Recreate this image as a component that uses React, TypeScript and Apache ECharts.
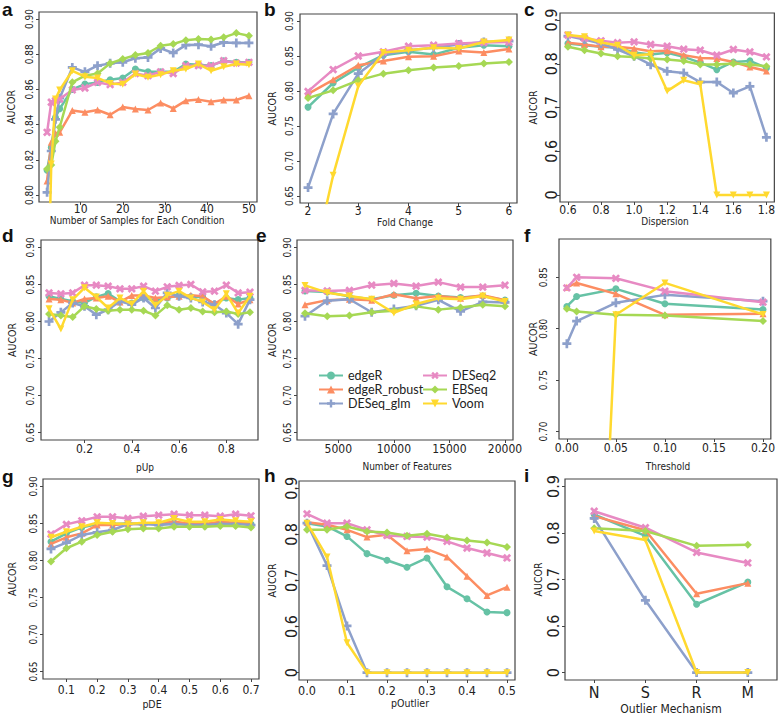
import React, { useEffect, useRef } from "react";
import * as echarts from "echarts";

// ---------- methods ----------
const METHODS = ["edgeR", "edgeR_robust", "DESeq_glm", "DESeq2", "EBSeq", "Voom"];
const COLORS = ["#66C2A5", "#FC8D62", "#8DA0CB", "#E78AC3", "#A6D854", "#FFD92F"];

// ---------- panel a ----------
const aX = [2, 3, 4, 5, 8, 11, 14, 17, 20, 23, 26, 29, 32, 35, 38, 41, 44, 47, 50];
const aEdgeR = [0.814, 0.827, 0.844, 0.849, 0.86, 0.863, 0.864, 0.8655, 0.8665, 0.8716, 0.87, 0.87, 0.87, 0.8744, 0.874, 0.8735, 0.8763, 0.8754, 0.8754];
const aRobust = [0.808, 0.83, 0.835, 0.8356, 0.848, 0.847, 0.8483, 0.8456, 0.85, 0.8489, 0.8483, 0.8523, 0.8492, 0.8536, 0.8542, 0.853, 0.854, 0.854, 0.8564];
const aGlm = [0.8015, 0.825, 0.843, 0.855, 0.8725, 0.87, 0.8735, 0.8748, 0.8754, 0.8777, 0.8782, 0.8833, 0.8807, 0.8852, 0.8854, 0.8845, 0.8867, 0.8864, 0.8864];
const aDESeq2 = [0.8356, 0.8527, 0.8536, 0.8545, 0.8597, 0.8608, 0.864, 0.8627, 0.864, 0.869, 0.8678, 0.87, 0.869, 0.8735, 0.8735, 0.8735, 0.8763, 0.875, 0.8754];
const aEBSeq = [0.8148, 0.817, 0.8305, 0.8385, 0.864, 0.8678, 0.869, 0.8748, 0.8773, 0.8795, 0.8807, 0.8848, 0.8858, 0.888, 0.8886, 0.8883, 0.8896, 0.892, 0.8905];
const aVoom = [0.72, 0.8176, 0.8545, 0.8597, 0.8706, 0.8672, 0.8665, 0.8634, 0.863, 0.8688, 0.8669, 0.8684, 0.8706, 0.8716, 0.8744, 0.8706, 0.8729, 0.8744, 0.874];

// ---------- panel b ----------
const bX = [2, 2.5, 3, 3.5, 4, 4.5, 5, 5.5, 6];
const bEdgeR = [0.777, 0.8114, 0.8334, 0.8511, 0.856, 0.852, 0.8617, 0.8655, 0.864];
const bRobust = [0.796, 0.816, 0.8368, 0.843, 0.8488, 0.8497, 0.857, 0.855, 0.86];
const bGlm = [0.662, 0.7673, 0.8248, 0.852, 0.8583, 0.8617, 0.8665, 0.87, 0.8713];
const bDESeq2 = [0.7994, 0.8306, 0.85, 0.856, 0.864, 0.8655, 0.868, 0.8693, 0.87];
const bEBSeq = [0.79, 0.8009, 0.8152, 0.8248, 0.8296, 0.8334, 0.8358, 0.8392, 0.8416];
const bVoom = [0.52, 0.6797, 0.807, 0.855, 0.8583, 0.8617, 0.8607, 0.87, 0.8727];

// ---------- panel c ----------
const cX = [0.6, 0.7, 0.8, 0.9, 1.0, 1.1, 1.2, 1.3, 1.4, 1.5, 1.6, 1.7, 1.8];
const cEdgeR = [0.8464, 0.8425, 0.8387, 0.8364, 0.8257, 0.8211, 0.8249, 0.8157, 0.8027, 0.7866, 0.8042, 0.8065, 0.7904];
const cRobust = [0.848, 0.844, 0.8387, 0.8387, 0.835, 0.8287, 0.8295, 0.8195, 0.8134, 0.8119, 0.8042, 0.7927, 0.7835];
const cGlm = [0.8632, 0.8556, 0.8464, 0.8326, 0.8172, 0.798, 0.7828, 0.7789, 0.7582, 0.7582, 0.733, 0.7483, 0.6318];
const cDESeq2 = [0.8655, 0.858, 0.8525, 0.848, 0.85, 0.844, 0.84, 0.8333, 0.831, 0.8195, 0.8326, 0.827, 0.8157];
const cEBSeq = [0.8387, 0.831, 0.8234, 0.8172, 0.8157, 0.8119, 0.8096, 0.8065, 0.7981, 0.7981, 0.8004, 0.7981, 0.7943];
const cVoom = [0.8655, 0.8617, 0.8487, 0.8425, 0.8195, 0.8218, 0.7375, 0.7621, 0.7529, 0, 0, 0, 0];

// ---------- panel d ----------
const dX = [0.05, 0.1, 0.15, 0.2, 0.25, 0.3, 0.35, 0.4, 0.45, 0.5, 0.55, 0.6, 0.65, 0.7, 0.75, 0.8, 0.85, 0.9];
const dEdgeR = [0.834, 0.8305, 0.8273, 0.825, 0.8332, 0.8377, 0.8273, 0.825, 0.8318, 0.8282, 0.8318, 0.8355, 0.8332, 0.8332, 0.8236, 0.8318, 0.8295, 0.8318];
const dRobust = [0.8305, 0.8295, 0.825, 0.8305, 0.8318, 0.8341, 0.8264, 0.835, 0.835, 0.8318, 0.8332, 0.8341, 0.8355, 0.8341, 0.8236, 0.8341, 0.8236, 0.8295];
const dGlm = [0.8, 0.8123, 0.825, 0.8205, 0.8091, 0.8159, 0.8273, 0.8227, 0.8318, 0.8182, 0.8386, 0.8341, 0.8318, 0.8264, 0.8227, 0.8114, 0.7964, 0.8295];
const dDESeq2 = [0.8386, 0.8373, 0.8386, 0.849, 0.849, 0.8477, 0.8441, 0.8441, 0.8477, 0.8409, 0.8468, 0.8486, 0.85, 0.84, 0.8409, 0.849, 0.8386, 0.8395];
const dEBSeq = [0.81, 0.8082, 0.8059, 0.8205, 0.8168, 0.8145, 0.8159, 0.8159, 0.8145, 0.8082, 0.8218, 0.8159, 0.8182, 0.8136, 0.8123, 0.8136, 0.81, 0.8123];
const dVoom = [0.8173, 0.79, 0.8295, 0.8455, 0.8332, 0.8182, 0.8318, 0.8236, 0.8409, 0.8218, 0.8355, 0.8409, 0.8318, 0.8264, 0.8159, 0.8373, 0.8114, 0.8341];

// ---------- panel e ----------
const eX = [2000, 4000, 6000, 8000, 10000, 12000, 14000, 16000, 18000, 20000];
const eEdgeR = [0.8412, 0.8398, 0.8336, 0.83, 0.8354, 0.838, 0.8345, 0.8323, 0.8345, 0.8288];
const eRobust = [0.8226, 0.8288, 0.83, 0.8288, 0.8367, 0.8314, 0.8345, 0.8314, 0.8354, 0.8288];
const eGlm = [0.8071, 0.8279, 0.83, 0.8124, 0.8168, 0.8212, 0.8292, 0.8137, 0.8265, 0.8257];
const eDESeq2 = [0.842, 0.8412, 0.842, 0.849, 0.8513, 0.8478, 0.8531, 0.8465, 0.8465, 0.849];
const eEBSeq = [0.811, 0.8071, 0.808, 0.8124, 0.8146, 0.8204, 0.816, 0.819, 0.8226, 0.8204];
const eVoom = [0.8487, 0.8389, 0.8345, 0.83, 0.8115, 0.8235, 0.8314, 0.83, 0.8345, 0.827];

// ---------- panel f ----------
const fX = [0, 0.01, 0.05, 0.1, 0.2];
const fEdgeR = [0.8216, 0.8313, 0.8387, 0.8242, 0.8187];
const fRobust = [0.8403, 0.8445, 0.8339, 0.8135, 0.8145];
const fGlm = [0.7855, 0.8074, 0.8252, 0.8329, 0.8268];
const fDESeq2 = [0.8397, 0.85, 0.849, 0.8365, 0.8258];
const fEBSeq = [0.8194, 0.8168, 0.8135, 0.8129, 0.8074];
const fVoom = [0, 0, 0.8135, 0.8445, 0.8139];

// ---------- panel g ----------
const gX = [0.05, 0.1, 0.15, 0.2, 0.25, 0.3, 0.35, 0.4, 0.45, 0.5, 0.55, 0.6, 0.65, 0.7];
const gEdgeR = [0.8254, 0.8366, 0.8446, 0.8491, 0.8491, 0.85, 0.8491, 0.85, 0.8509, 0.8491, 0.8491, 0.8491, 0.8509, 0.8491];
const gRobust = [0.8223, 0.8313, 0.8366, 0.8478, 0.8478, 0.8491, 0.8491, 0.8509, 0.8522, 0.85, 0.8491, 0.8522, 0.8509, 0.85];
const gGlm = [0.8156, 0.8241, 0.8344, 0.838, 0.8411, 0.8491, 0.8491, 0.8478, 0.8491, 0.8478, 0.8478, 0.8491, 0.8491, 0.8478];
const gDESeq2 = [0.8357, 0.8487, 0.8536, 0.8589, 0.8589, 0.8567, 0.8598, 0.8612, 0.8625, 0.8612, 0.8612, 0.8598, 0.8625, 0.8603];
const gEBSeq = [0.7987, 0.8165, 0.8254, 0.8344, 0.8388, 0.842, 0.8433, 0.8433, 0.8455, 0.8455, 0.8455, 0.8464, 0.8464, 0.8446];
const gVoom = [0.8313, 0.8388, 0.8455, 0.8509, 0.85, 0.8491, 0.8509, 0.8509, 0.8567, 0.8522, 0.8522, 0.8554, 0.8536, 0.8522];

// ---------- panel h ----------
const hX = [0, 0.05, 0.1, 0.15, 0.2, 0.25, 0.3, 0.35, 0.4, 0.45, 0.5];
const hEdgeR = [0.8245, 0.8173, 0.7957, 0.7583, 0.7439, 0.7288, 0.7489, 0.6863, 0.6604, 0.6317, 0.6302];
const hRobust = [0.8266, 0.8209, 0.81, 0.7942, 0.7993, 0.7647, 0.7683, 0.7511, 0.7094, 0.6676, 0.6856];
const hGlm = [0.8245, 0.7324, 0.6014, 0, 0, 0, 0, 0, 0, 0, 0];
const hDESeq2 = [0.8446, 0.8245, 0.8245, 0.81, 0.7978, 0.7957, 0.7942, 0.7849, 0.7705, 0.7597, 0.7489];
const hEBSeq = [0.81, 0.81, 0.8173, 0.8065, 0.8043, 0.7971, 0.8014, 0.7935, 0.787, 0.7827, 0.7727];
const hVoom = [0.8245, 0.7511, 0.39, 0, 0, 0, 0, 0, 0, 0, 0];

// ---------- panel i ----------
const iCats = ["N", "S", "R", "M"];
const iX = [1, 2, 3, 4];
const iEdgeR = [0.8397, 0.7936, 0.6468, 0.6943];
const iRobust = [0.8362, 0.8057, 0.6695, 0.6922];
const iGlm = [0.8312, 0.6553, 0, 0];
const iDESeq2 = [0.8468, 0.8113, 0.7582, 0.7355];
const iEBSeq = [0.8099, 0.8043, 0.7723, 0.7745];
const iVoom = [0.8043, 0.785, 0, 0];

// ---------- tick labels ----------
const tA_x = [10, 20, 30, 40, 50];
const tA_y = [0.8, 0.82, 0.84, 0.86, 0.88, 0.9];
const tB_x = [2, 3, 4, 5, 6];
const tStd_y = [0.65, 0.7, 0.75, 0.8, 0.85, 0.9];
const tC_x = [0.6, 0.8, 1.0, 1.2, 1.4, 1.6, 1.8];
const tBrk_y = [0, 0.6, 0.7, 0.8, 0.9];
const tD_x = [0.2, 0.4, 0.6, 0.8];
const tE_x = [5000, 10000, 15000, 20000];
const tF_x = [0, 0.05, 0.1, 0.15, 0.2];
const tF_y = [0.7, 0.75, 0.8, 0.85];
const tG_x = [0.1, 0.2, 0.3, 0.4, 0.5, 0.6, 0.7];
const tH_x = [0, 0.1, 0.2, 0.3, 0.4, 0.5];

const FONT_N = "'Liberation Sans Narrow', 'DejaVu Sans Condensed', 'Roboto Condensed', Lato";
const FONT = "Lato";
const TXT = "#222";

// broken axis: values below 0.6 are squeezed into [0.5, 0.6]
const brk = (v: number) => (v >= 0.6 ? v : 0.5 + v / 6);
const ident = (v: number) => v;

const symPlus =
  "path://M-1.5,-5 L1.5,-5 L1.5,-1.5 L5,-1.5 L5,1.5 L1.5,1.5 L1.5,5 L-1.5,5 L-1.5,1.5 L-5,1.5 L-5,-1.5 L-1.5,-1.5 Z";
const SYMBOLS = ["circle", "triangle", symPlus, symPlus, "diamond", "triangle"];
const SYM_ROT = [0, 0, 0, 45, 0, 180];
const SYM_SIZE = [7, 7, 9, 9, 8, 7];

type Panel = {
  letter: string;
  x: number[];
  ys: number[][];
  xr: [number, number];
  yr: [number, number];
  xt: number[];
  yt: number[];
  xf: (v: number) => string;
  yf: (v: number) => string;
  tf: (v: number) => number;
  xName: string;
  xns: number;
  box: { l: number; t: number; w: number; h: number };
  xls: number;
  yls: number;
  xlm: number;
  ylm: number;
  xNameXY: [number, number];
  yNameX: number;
  letterXY: [number, number];
};

const f2 = (v: number) => v.toFixed(2);
const f1 = (v: number) => v.toFixed(1);
const fb = (v: number) => (v < 0.55 ? "0" : v.toFixed(1));

const PANELS: Panel[] = [
  {
    letter: "a", x: aX, ys: [aEdgeR, aRobust, aGlm, aDESeq2, aEBSeq, aVoom],
    xr: [0.08, 51.92], yr: [0.796, 0.904], xt: tA_x, yt: tA_y, xf: (v) => String(v), yf: f2, tf: ident,
    xName: "Number of Samples for Each Condition", xns: 10, box: { l: 39, t: 12, w: 218, h: 190 },
    xls: 12, yls: 10, xlm: 1, ylm: 4.5, xNameXY: [137, 220], yNameX: 11, letterXY: [2, 0],
  },
  {
    letter: "b", x: bX, ys: [bEdgeR, bRobust, bGlm, bDESeq2, bEBSeq, bVoom],
    xr: [1.84, 6.16], yr: [0.64, 0.91], xt: tB_x, yt: tStd_y, xf: (v) => String(v), yf: f2, tf: ident,
    xName: "Fold Change", xns: 10, box: { l: 300, t: 14, w: 217, h: 189 },
    xls: 12, yls: 10, xlm: 2, ylm: 6, xNameXY: [405, 222], yNameX: 272, letterXY: [264, 0],
  },
  {
    letter: "c", x: cX, ys: [cEdgeR, cRobust, cGlm, cDESeq2, cEBSeq, cVoom],
    xr: [0.552, 1.848], yr: [0.484, 0.916], xt: tC_x, yt: tBrk_y.map(brk), xf: f1, yf: fb, tf: brk,
    xName: "Dispersion", xns: 10, box: { l: 560, t: 13, w: 216, h: 189 },
    xls: 12, yls: 16, xlm: 2, ylm: 1, xNameXY: [665, 221], yNameX: 533, letterXY: [524, 0],
  },
  {
    letter: "d", x: dX, ys: [dEdgeR, dRobust, dGlm, dDESeq2, dEBSeq, dVoom],
    xr: [0.016, 0.934], yr: [0.64, 0.91], xt: tD_x, yt: tStd_y, xf: f1, yf: f2, tf: ident,
    xName: "pUp", xns: 10, box: { l: 41, t: 240, w: 217, h: 200 },
    xls: 12, yls: 10, xlm: 3, ylm: 5.5, xNameXY: [145, 467], yNameX: 12, letterXY: [2, 226],
  },
  {
    letter: "e", x: eX, ys: [eEdgeR, eRobust, eGlm, eDESeq2, eEBSeq, eVoom],
    xr: [1280, 20720], yr: [0.64, 0.91], xt: tE_x, yt: tStd_y, xf: (v) => String(v), yf: f2, tf: ident,
    xName: "Number of Features", xns: 10, box: { l: 297, t: 240, w: 216, h: 200 },
    xls: 12, yls: 10, xlm: 3, ylm: 4.5, xNameXY: [407, 466], yNameX: 272, letterXY: [256, 226],
  },
  {
    letter: "f", x: fX, ys: [fEdgeR, fRobust, fGlm, fDESeq2, fEBSeq, fVoom],
    xr: [-0.008, 0.208], yr: [0.6928, 0.8872], xt: tF_x, yt: tF_y, xf: f2, yf: f2, tf: ident,
    xName: "Threshold", xns: 10, box: { l: 559, t: 239, w: 218, h: 200 },
    xls: 12, yls: 10, xlm: 3, ylm: 11, xNameXY: [668, 466], yNameX: 533, letterXY: [524, 226],
  },
  {
    letter: "g", x: gX, ys: [gEdgeR, gRobust, gGlm, gDESeq2, gEBSeq, gVoom],
    xr: [0.024, 0.726], yr: [0.64, 0.91], xt: tG_x, yt: tStd_y, xf: f1, yf: f2, tf: ident,
    xName: "pDE", xns: 10.5, box: { l: 43, t: 479, w: 216, h: 200 },
    xls: 12, yls: 10, xlm: 5, ylm: 5, xNameXY: [152, 703.5], yNameX: 12, letterXY: [2, 467],
  },
  {
    letter: "h", x: hX, ys: [hEdgeR, hRobust, hGlm, hDESeq2, hEBSeq, hVoom],
    xr: [-0.02, 0.52], yr: [0.484, 0.916], xt: tH_x, yt: tBrk_y.map(brk), xf: f1, yf: fb, tf: brk,
    xName: "pOutlier", xns: 10.5, box: { l: 299, t: 481, w: 216, h: 199 },
    xls: 12.5, yls: 16, xlm: 4.5, ylm: 0, xNameXY: [410, 703], yNameX: 272, letterXY: [264, 466],
  },
  {
    letter: "i", x: iX, ys: [iEdgeR, iRobust, iGlm, iDESeq2, iEBSeq, iVoom],
    xr: [0.43, 4.57], yr: [0.484, 0.916], xt: iX, yt: tBrk_y.map(brk),
    xf: (v) => iCats[Math.round(v) - 1] ?? "", yf: fb, tf: brk,
    xName: "Outlier Mechanism", xns: 12, box: { l: 565, t: 479, w: 212, h: 201 },
    xls: 16, yls: 16, xlm: 4.5, ylm: 4, xNameXY: [671, 709], yNameX: 538, letterXY: [524, 466],
  },
];

function buildOption() {
  const grid: any[] = [];
  const xAxis: any[] = [];
  const yAxis: any[] = [];
  const series: any[] = [];
  const graphic: any[] = [];

  PANELS.forEach((p, gi) => {
    grid.push({
      left: p.box.l, top: p.box.t, width: p.box.w, height: p.box.h,
      show: true, borderColor: "#444", borderWidth: 1.2, containLabel: false,
    });
    xAxis.push({
      type: "value", gridIndex: gi, min: p.xr[0], max: p.xr[1],
      splitLine: { show: false },
      axisLine: { show: false, onZero: false },
      axisTick: { show: true, customValues: p.xt, length: 3, lineStyle: { color: "#444" } },
      axisLabel: {
        customValues: p.xt, formatter: (v: number) => p.xf(v), fontSize: p.xls, lineHeight: p.xls,
        fontFamily: FONT_N, color: TXT, margin: p.xlm,
      },
    });
    yAxis.push({
      type: "value", gridIndex: gi, min: p.yr[0], max: p.yr[1],
      splitLine: { show: false },
      axisLine: { show: false, onZero: false },
      axisTick: { show: true, customValues: p.yt, length: 3, lineStyle: { color: "#444" } },
      axisLabel: {
        customValues: p.yt, formatter: (v: number) => p.yf(v), fontSize: p.yls, lineHeight: p.yls, rotate: 90,
        fontFamily: FONT_N, color: TXT, margin: p.ylm,
      },
    });
    METHODS.forEach((m, k) => {
      series.push({
        type: "line", name: m, xAxisIndex: gi, yAxisIndex: gi,
        data: p.x.map((xv, j) => [xv, p.tf(p.ys[k][j])]),
        symbol: SYMBOLS[k], symbolSize: SYM_SIZE[k], symbolRotate: SYM_ROT[k],
        showSymbol: true, clip: true, z: 2 + k,
        lineStyle: { color: COLORS[k], width: 2.5 },
        itemStyle: { color: COLORS[k], opacity: 1 },
        emphasis: { disabled: true },
      });
    });
    graphic.push({
      type: "text", x: p.xNameXY[0], y: p.xNameXY[1],
      style: { text: p.xName, fontSize: p.xns, fontFamily: FONT_N, fill: TXT, align: "center", verticalAlign: "middle" },
    });
    graphic.push({
      type: "text", x: p.yNameX, y: p.box.t + p.box.h / 2, rotation: Math.PI / 2,
      style: { text: "AUCOR", fontSize: 10.5, fontFamily: FONT_N, fill: TXT, align: "center", verticalAlign: "middle" },
    });
    graphic.push({
      type: "text", x: p.letterXY[0], y: p.letterXY[1],
      style: {
        text: p.letter, fontSize: 19, lineHeight: 19, fontWeight: "bold", fontFamily: "Liberation Sans",
        fill: "#111", align: "left", verticalAlign: "top",
      },
    });
  });

  const legendCommon = {
    orient: "vertical", itemWidth: 24, itemHeight: 10, itemGap: 1,
    textStyle: { fontSize: 12.5, fontFamily: FONT, color: TXT },
    selectedMode: false,
  };

  return {
    animation: false,
    backgroundColor: "#ffffff",
    grid, xAxis, yAxis, series, graphic,
    legend: [
      { ...legendCommon, data: METHODS.slice(0, 3), left: 313, top: 364 },
      { ...legendCommon, data: METHODS.slice(3, 6), left: 417, top: 364 },
    ],
  };
}

export default function App() {
  const ref = useRef<HTMLDivElement>(null);
  useEffect(() => {
    if (!ref.current) return;
    const chart = echarts.init(ref.current, null, { renderer: "svg" });
    chart.setOption(buildOption() as any);
    return () => chart.dispose();
  }, []);
  return (
    <div
      ref={ref}
      style={{ position: "fixed", left: 0, top: 0, width: 778, height: 716, background: "#fff" }}
    />
  );
}
